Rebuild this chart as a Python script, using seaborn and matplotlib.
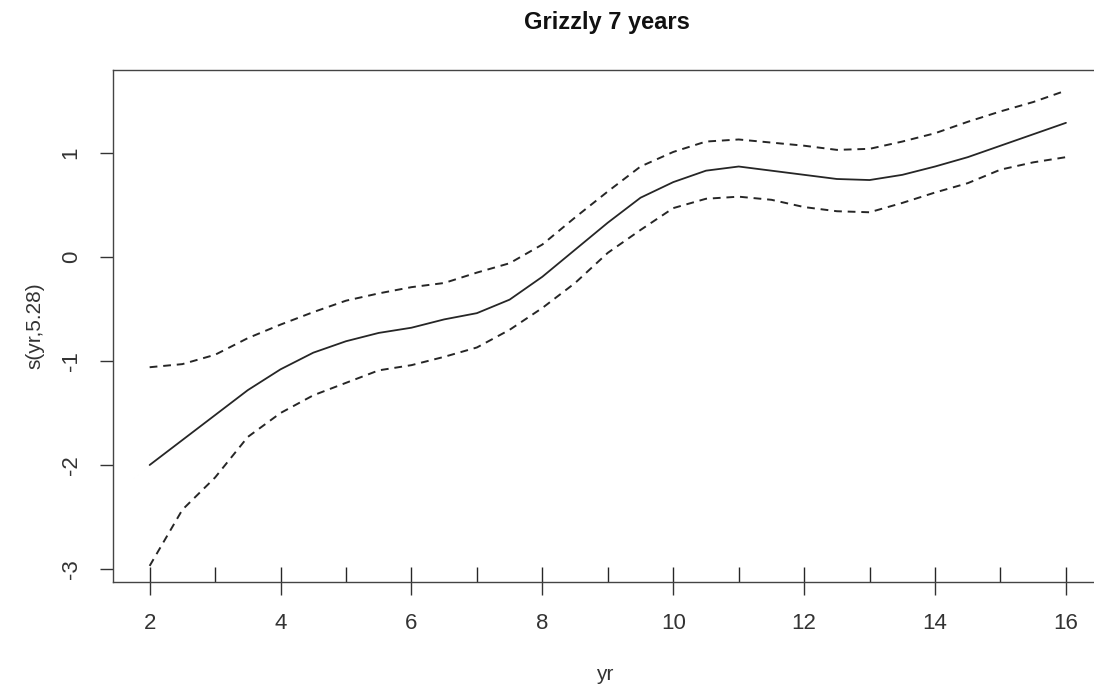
import numpy as np
import pandas as pd
import matplotlib
matplotlib.use("Agg")
import matplotlib.pyplot as plt
import seaborn as sns

# Data
yr = [2, 2.5, 3, 3.5, 4, 4.5, 5, 5.5, 6, 6.5, 7, 7.5, 8, 8.5, 9, 9.5, 10,
      10.5, 11, 11.5, 12, 12.5, 13, 13.5, 14, 14.5, 15, 15.5, 16]
fit = [-2.00, -1.76, -1.52, -1.28, -1.08, -0.92, -0.81, -0.73, -0.68, -0.60,
       -0.54, -0.41, -0.19, 0.07, 0.33, 0.57, 0.72, 0.83, 0.87, 0.83, 0.79,
       0.75, 0.74, 0.79, 0.87, 0.96, 1.07, 1.18, 1.29]
upper = [-1.06, -1.03, -0.94, -0.78, -0.65, -0.53, -0.42, -0.35, -0.29, -0.25,
         -0.15, -0.06, 0.12, 0.38, 0.63, 0.87, 1.01, 1.11, 1.13, 1.10, 1.07,
         1.03, 1.04, 1.11, 1.19, 1.30, 1.40, 1.49, 1.60]
lower = [-2.97, -2.43, -2.12, -1.73, -1.50, -1.33, -1.21, -1.09, -1.04, -0.96,
         -0.87, -0.70, -0.49, -0.25, 0.04, 0.26, 0.47, 0.56, 0.58, 0.55, 0.48,
         0.44, 0.43, 0.52, 0.62, 0.71, 0.84, 0.91, 0.96]
rug_yr = [2, 3, 4, 5, 6, 7, 8, 9, 10, 11, 12, 13, 14, 15, 16]
x_ticks = [2, 4, 6, 8, 10, 12, 14, 16]
y_ticks = [-3, -2, -1, 0, 1]

sns.set_style("white")
plt.rcParams['font.family'] = ['Liberation Sans', 'DejaVu Sans']

W, H = 1094, 687
fig = plt.figure(figsize=(W / 100, H / 100), dpi=100)
ax = fig.add_axes([113 / W, (H - 582) / H, (1102.6 - 113) / W, (582 - 70) / H])

col = "#262626"
df = pd.DataFrame({"yr": yr, "fit": fit, "upper": upper, "lower": lower})
sns.lineplot(data=df, x="yr", y="fit", ax=ax, color=col, lw=1.3)
sns.lineplot(data=df, x="yr", y="upper", ax=ax, color=col, lw=1.4, linestyle=(0, (4, 3)))
sns.lineplot(data=df, x="yr", y="lower", ax=ax, color=col, lw=1.4, linestyle=(0, (4, 3)))
sns.rugplot(x=rug_yr, ax=ax, height=0.03, color=col, lw=1.3)

ax.set_xlim(1.44, 16.56)
ax.set_ylim(-3.125, 1.798)
ax.set_xticks(x_ticks)
ax.set_yticks(y_ticks)
ax.set_xticklabels([str(v) for v in x_ticks])
ax.set_yticklabels([str(v) for v in y_ticks], rotation=90, va="center")

for s in ax.spines.values():
    s.set_color("#444444")
    s.set_linewidth(1.0)
ax.tick_params(axis="both", direction="out", length=9.5, width=1.0, color="#333333",
               labelsize=16, labelcolor="#333333")
ax.tick_params(axis="x", pad=13, bottom=True)
ax.tick_params(axis="y", pad=13, left=True)

ax.set_xlabel("")
ax.set_ylabel("")
fig.text(605 / W, 1 - 675 / H, "yr", ha="center", va="center", fontsize=15, color="#333333")
fig.text(35 / W, 1 - 326 / H, "s(yr,5.28)", ha="center", va="center", rotation=90,
         fontsize=15, color="#333333")
fig.text(607 / W, 1 - 22 / H, "Grizzly 7 years", ha="center", va="center",
         fontsize=17, fontweight="bold", color="#111111")

fig.savefig("out.png", dpi=100)
